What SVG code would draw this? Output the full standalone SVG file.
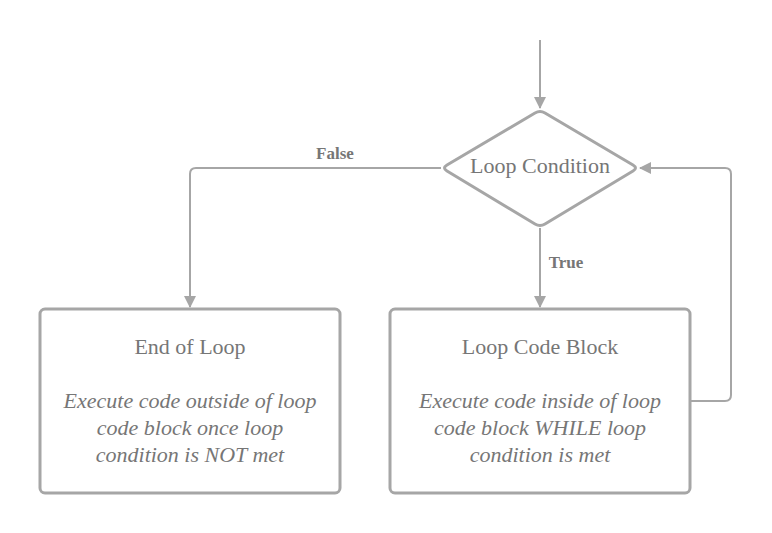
<svg xmlns="http://www.w3.org/2000/svg" width="772" height="533" viewBox="0 0 772 533">
<style>
.shape{fill:#ffffff;stroke:#a6a6a6;stroke-width:3}
.conn{fill:none;stroke:#a6a6a6;stroke-width:2}
text{font-family:'Liberation Serif','Times New Roman',Times,'DejaVu Serif',serif;fill:#767676;text-anchor:middle}
.title{font-size:22px}
.body{font-size:22px;font-style:italic}
.lbl{font-size:17px;font-weight:bold}
</style>
<defs>
<marker id="arr" viewBox="0 0 12 12" refX="11" refY="6" markerWidth="12" markerHeight="12" markerUnits="userSpaceOnUse" orient="auto">
<path d="M0,0 L12,6 L0,12 Z" fill="#a6a6a6"/>
</marker>
</defs>
<g id="connectors">
<path class="conn" d="M540,40 L540,108" marker-end="url(#arr)"/>
<path class="conn" d="M441,168 L196,168 Q190,168 190,174 L190,307" marker-end="url(#arr)"/>
<path class="conn" d="M540,228 L540,307" marker-end="url(#arr)"/>
<path class="conn" d="M690,401 L725,401 Q731,401 731,395 L731,174 Q731,168 725,168 L640,168" marker-end="url(#arr)"/>
<text class="lbl" x="335" y="159">False</text>
<text class="lbl" x="566" y="268">True</text>
</g>
<g id="loop-condition">
<path class="shape" d="M535,113 Q540,110 545,113 L633,165 Q638,168 633,171 L545,224 Q540,227 535,224 L447,171 Q442,168 447,165 Z"/>
<text class="title" x="540" y="173">Loop Condition</text>
</g>
<g id="end-of-loop">
<rect class="shape" x="40" y="309" width="300" height="184" rx="5"/>
<text class="title" x="190" y="354">End of Loop</text>
<text class="body" x="190" y="408">Execute code outside of loop</text>
<text class="body" x="190" y="435">code block once loop</text>
<text class="body" x="190" y="462">condition is NOT met</text>
</g>
<g id="loop-code-block">
<rect class="shape" x="390" y="309" width="300" height="184" rx="5"/>
<text class="title" x="540" y="354">Loop Code Block</text>
<text class="body" x="540" y="408">Execute code inside of loop</text>
<text class="body" x="540" y="435">code block WHILE loop</text>
<text class="body" x="540" y="462">condition is met</text>
</g>
</svg>
